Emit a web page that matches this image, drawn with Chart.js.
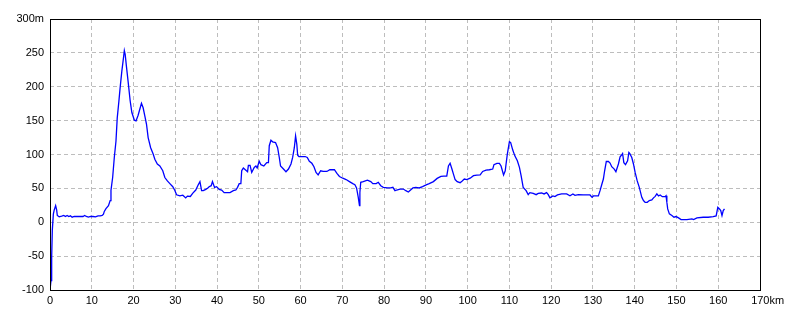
<!DOCTYPE html>
<html>
<head>
<meta charset="utf-8">
<script src="https://cdn.jsdelivr.net/npm/chart.js@4.4.1/dist/chart.umd.min.js"></script>
<style>
  html, body { margin: 0; padding: 0; background: #fff; }
  #wrap { width: 800px; height: 320px; }
</style>
</head>
<body>
<div id="wrap"><canvas id="profileChart"></canvas></div>
<script>
// distance along the route (km) and elevation (m)
const distKm = [
  0, 0.24, 0.4, 0.55, 0.8, 1.0, 1.35, 1.6, 1.75, 2.2, 2.8, 3.3, 3.7, 4.1, 4.5, 4.9, 5.3, 5.8, 6.5, 7.3,
  7.9, 8.3, 8.7, 9.2, 9.7, 10.3, 10.9, 11.5, 12.0, 12.5, 12.8, 13.0, 13.4, 14.0, 14.4, 14.6, 15.0, 15.4, 15.8, 16.1,
  16.5, 16.8, 17.2, 17.6, 17.8, 18.0, 18.3, 18.7, 19.2, 19.6, 20.2, 20.6, 21.1, 21.6, 21.9, 22.3, 22.7, 23.1, 23.5, 24.1,
  24.7, 25.1, 25.7, 26.3, 27.0, 27.5, 28.1, 28.7, 29.4, 29.9, 30.3, 31.1, 31.8, 32.5, 32.9, 33.6, 34.2, 34.9, 35.5, 35.9,
  36.3, 36.7, 37.3, 37.8, 38.1, 38.6, 38.9, 39.4, 39.9, 40.5, 41.1, 41.7, 42.3, 43.1, 43.9, 44.5, 44.9, 45.3, 45.7, 45.9,
  46.3, 46.7, 47.3, 47.5, 47.9, 48.3, 48.9, 49.3, 49.6, 50.1, 50.5, 51.2, 51.9, 52.3, 52.5, 52.9, 53.3, 54.0, 54.5, 54.9,
  55.2, 55.9, 56.5, 57.1, 57.7, 58.1, 58.5, 58.8, 59.1, 59.3, 59.6, 60.3, 61.1, 61.6, 62.1, 62.7, 63.2, 63.7, 64.2, 64.8,
  65.4, 66.3, 67.0, 68.1, 68.7, 69.3, 70.1, 70.9, 71.7, 72.5, 73.0, 73.4, 73.8, 74.1, 74.2, 74.4, 75.0, 76.0, 76.8, 77.3,
  78.1, 78.6, 79.2, 79.8, 80.8, 81.6, 82.1, 82.6, 83.0, 83.8, 84.6, 85.2, 85.8, 86.4, 86.9, 87.6, 88.4, 89.2, 90.2, 90.8,
  91.8, 92.7, 93.6, 94.3, 95.0, 95.4, 95.8, 96.2, 96.6, 97.0, 97.5, 98.2, 98.7, 99.2, 99.8, 100.6, 101.4, 102.2, 103.0, 103.6,
  104.4, 105.2, 106.0, 106.3, 107.0, 107.6, 108.0, 108.6, 109.0, 109.2, 109.5, 110.0, 110.3, 110.8, 111.3, 111.9, 112.4, 112.8, 113.3, 114.0,
  114.5, 114.9, 115.7, 116.4, 116.9, 117.7, 118.3, 118.9, 119.3, 119.7, 120.4, 120.9, 121.5, 122.5, 123.7, 124.5, 125.2, 125.7, 126.5, 127.7,
  129.3, 129.8, 130.1, 131.3, 131.7, 132.1, 132.5, 132.8, 133.2, 133.7, 134.1, 134.5, 135.1, 135.5, 136.1, 136.5, 136.9, 137.1, 137.4, 137.8,
  138.3, 138.6, 138.8, 139.3, 139.7, 140.1, 140.6, 141.1, 141.7, 142.1, 142.5, 143.0, 143.5, 144.1, 144.5, 144.9, 145.3, 145.7, 146.1, 146.6,
  147.3, 147.5, 147.7, 147.9, 148.3, 148.9, 149.4, 149.9, 150.5, 151.1, 152.5, 153.7, 154.1, 154.9, 156.4, 157.6, 158.8, 159.5, 159.9, 160.3,
  160.6, 160.9, 161.2, 161.5
]
const elevM = [
  -100, -86, -51, -12, 12, 18, 24.5, 18, 10, 8, 9, 10, 8.5, 10, 8.5, 9.5, 7.5, 8.5, 8.5, 8.5,
  8.5, 10, 8.5, 7.5, 8.5, 8.5, 8, 9.5, 9.5, 10, 12, 16, 20, 24.5, 32, 47, 66, 96, 120, 154,
  179, 199, 223, 243, 253.5, 248, 230, 208, 179, 162, 150.6, 149.6, 158, 169, 175.6, 169, 157, 145, 125, 110,
  100.6, 93, 86, 83, 76, 66, 61, 57, 52.5, 47, 40.5, 39, 40, 36, 38.5, 38, 43, 47.5, 55.4, 60,
  46.6, 46.6, 48.5, 50.6, 52.5, 54, 60, 51.5, 52.5, 48.5, 47.6, 43.7, 43.7, 43.7, 46.6, 47.6, 51.5, 57, 57, 76,
  80, 78, 74.6, 84, 84, 73.5, 81, 83, 80, 90, 85, 83, 88, 88, 113, 121, 118.7, 117.6, 110, 95.6,
  83, 78.5, 74.6, 78.5, 86, 95.6, 110, 127.5, 115, 99, 97, 97, 97, 95.6, 90, 87, 82, 73.5, 70, 76,
  75, 75, 77.5, 77.5, 72, 67.6, 65, 63, 60, 57, 55.4, 50.6, 37, 24.5, 44, 59, 60, 62, 60, 57,
  57, 59, 54, 51.5, 50.6, 50.6, 51.5, 46.6, 47.6, 49, 49, 46.6, 44.7, 48, 50.6, 51.5, 50.6, 52.5, 55.4, 57,
  60, 64.7, 67.6, 68, 68, 83, 87, 79.4, 71, 63, 60, 58.4, 61, 63.8, 63, 65, 68.7, 69.7, 70, 75,
  77, 77.5, 78.5, 85, 87, 87, 83, 69.7, 76, 86, 100.6, 119, 117.6, 106.5, 98, 90.7, 81, 68.7, 51.5, 46.6,
  40.7, 43.7, 42.6, 40.7, 42.6, 43.2, 41.8, 43.7, 40.7, 36, 38.8, 37.8, 40.3, 41.8, 41.8, 39, 41.8, 39.7, 40.7, 40.3,
  40.3, 36.8, 38.8, 38.8, 46.6, 55.4, 63.8, 76, 89.7, 89.7, 87.4, 82, 78.5, 74.6, 86, 96.6, 99.6, 101.5, 88, 85,
  90.7, 103, 101.5, 95.6, 86, 73.5, 61, 51.5, 36.8, 32, 29.4, 29.4, 32, 33, 36, 38.2, 41.8, 38.8, 40.3, 37.8,
  37.8, 39.2, 29.4, 19.7, 12.4, 9.9, 7.4, 8.4, 6.5, 4, 4, 5, 4, 6.5, 7.4, 7.4, 8.4, 9.4, 22, 19.7,
  17.2, 9.9, 17.2, 19.7
]

// axis range and tick spacing
const xMin = 0, xMax = 170, xStep = 10
const yMin = -100, yMax = 300, yStep = 50

const points = distKm.map((d, i) => ({ x: d, y: elevM[i] }))

const FONT = "'Liberation Sans', Arial, sans-serif"

// solid black box around the plot area
const framePlugin = {
  id: "frame",
  afterDraw(chart) {
    const a = chart.chartArea
    const ctx = chart.ctx
    ctx.save()
    ctx.strokeStyle = "#000"
    ctx.lineWidth = 1
    ctx.strokeRect(Math.round(a.left) + 0.5, Math.round(a.top) + 0.5,
      Math.round(a.right - a.left), Math.round(a.bottom - a.top))
    ctx.restore()
  }
}

const ctx = document.getElementById("profileChart").getContext("2d")
new Chart(ctx, {
  type: "line",
  data: {
    datasets: [{
      data: points,
      borderColor: "#0000ff",
      borderWidth: 1.3,
      pointRadius: 0,
      tension: 0,
      fill: false,
    }],
  },
  options: {
    responsive: true,
    maintainAspectRatio: false,
    animation: false,
    events: [],
    layout: { padding: { left: 0, right: 40, top: 19, bottom: 0 } },
    plugins: {
      legend: { display: false },
      tooltip: { enabled: false },
    },
    scales: {
      x: {
        type: "linear",
        min: xMin,
        max: xMax,
        afterFit: (s) => { s.height = 30 },
        ticks: {
          stepSize: xStep,
          autoSkip: false,
          color: "#000",
          padding: 4,
          maxRotation: 0,
          font: { family: FONT, size: 11 },
          callback: (v) => v === xMax ? "     " + v + "km" : v,
        },
        grid: { color: "#bdbdbd", lineWidth: 1, drawTicks: false },
        border: { display: false, dash: [4, 3] },
      },
      y: {
        min: yMin,
        max: yMax,
        afterFit: (s) => { s.width = 50 },
        ticks: {
          stepSize: yStep,
          color: "#000",
          padding: 6,
          font: { family: FONT, size: 11 },
          callback: (v) => v === yMax ? v + "m" : v,
        },
        grid: { color: "#bdbdbd", lineWidth: 1, drawTicks: false },
        border: { display: false, dash: [4, 3] },
      },
    },
  },
  plugins: [framePlugin],
})
</script>
</body>
</html>
